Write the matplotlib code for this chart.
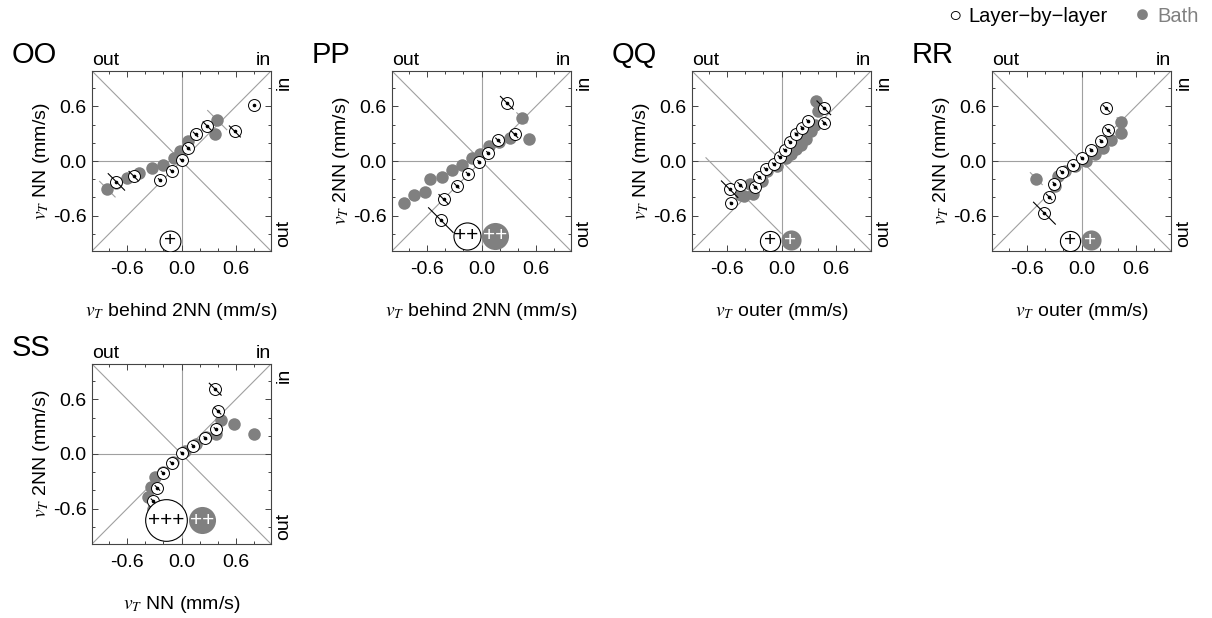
import matplotlib
matplotlib.use("Agg")
import matplotlib.pyplot as plt
import numpy as np

plt.rcParams['font.family'] = ['Liberation Sans', 'DejaVu Sans']
plt.rcParams['mathtext.fontset'] = 'stix'

GRAY = '#808080'
LIGHT = '#a0a0a0'

# ---- data ----
# OO
oo_open_x = [-0.72, -0.53, -0.24, -0.11, 0.00, 0.07, 0.155, 0.285, 0.59, 0.80]
oo_open_y = [-0.23, -0.165, -0.21, -0.11, 0.007, 0.146, 0.293, 0.384, 0.325, 0.62]
oo_open_err = [0.095, 0.055, 0.02, 0.02, 0.02, 0.03, 0.03, 0.05, 0.065, 0.0]
oo_bath_x = [-0.82, -0.72, -0.60, -0.475, -0.33, -0.21, -0.08, -0.02, 0.07, 0.165, 0.37, 0.395]
oo_bath_y = [-0.31, -0.24, -0.19, -0.13, -0.08, -0.04, 0.035, 0.115, 0.22, 0.30, 0.30, 0.45]
oo_bath_err = [0.09, 0.0, 0.0, 0.0, 0.0, 0.0, 0.0, 0.0, 0.0, 0.0, 0.0, 0.11]

# PP
pp_open_x = [-0.45, -0.42, -0.274, -0.154, -0.026, 0.073, 0.183, 0.366, 0.28]
pp_open_y = [-0.65, -0.42, -0.274, -0.139, -0.011, 0.088, 0.227, 0.293, 0.64]
pp_open_err = [0.14, 0.055, 0.03, 0.02, 0.02, 0.02, 0.03, 0.04, 0.075]
pp_bath_x = [-0.86, -0.75, -0.63, -0.567, -0.44, -0.33, -0.212, -0.11, -0.018, 0.08, 0.19, 0.31, 0.446, 0.52]
pp_bath_y = [-0.464, -0.373, -0.34, -0.20, -0.175, -0.10, -0.048, 0.03, 0.08, 0.165, 0.21, 0.256, 0.475, 0.24]
pp_bath_err = [0.02, 0, 0, 0, 0, 0, 0, 0, 0, 0, 0, 0, 0.06, 0]

# QQ
qq_open_x = [-0.574, -0.457, -0.556, -0.29, -0.249, -0.175, -0.084, -0.022, 0.037, 0.091, 0.165, 0.23, 0.293, 0.468, 0.475]
qq_open_y = [-0.31, -0.263, -0.464, -0.285, -0.175, -0.09, -0.037, 0.044, 0.117, 0.212, 0.293, 0.366, 0.439, 0.585, 0.42]
qq_open_err = [0.095, 0.03, 0.015, 0.03, 0.03, 0.02, 0.02, 0.02, 0.02, 0.02, 0.02, 0.02, 0.02, 0.08, 0.03]
qq_bath_x = [-0.42, -0.446, -0.32, -0.35, -0.22, -0.165, -0.055, 0.055, 0.11, 0.165, 0.22, 0.274, 0.33, 0.366, 0.40, 0.385]
qq_bath_y = [-0.38, -0.373, -0.366, -0.256, -0.22, -0.11, -0.055, 0.03, 0.073, 0.128, 0.175, 0.238, 0.33, 0.40, 0.55, 0.658]
qq_bath_err = [0.42, 0, 0.02, 0, 0, 0, 0, 0, 0, 0, 0, 0, 0, 0, 0, 0.02]

# RR
rr_open_x = [-0.41, -0.358, -0.30, -0.22, -0.099, 0.007, 0.11, 0.22, 0.293, 0.274]
rr_open_y = [-0.574, -0.395, -0.249, -0.12, -0.048, 0.03, 0.12, 0.22, 0.336, 0.578]
rr_open_err = [0.125, 0.035, 0.02, 0.02, 0.02, 0.02, 0.02, 0.02, 0.035, 0.04]
rr_bath_x = [-0.50, -0.29, -0.256, -0.183, -0.073, 0.048, 0.146, 0.238, 0.33, 0.44, 0.44]
rr_bath_y = [-0.194, -0.274, -0.165, -0.11, -0.055, 0.0, 0.073, 0.146, 0.227, 0.31, 0.43]
rr_bath_err = [0.07, 0, 0, 0, 0, 0, 0, 0, 0, 0, 0.05]

# SS
ss_open_x = [-0.31, -0.267, -0.208, -0.11, 0.007, 0.128, 0.263, 0.377, 0.40, 0.373]
ss_open_y = [-0.52, -0.373, -0.205, -0.099, 0.007, 0.091, 0.175, 0.274, 0.475, 0.713]
ss_open_err = [0.03, 0.03, 0.02, 0.02, 0.02, 0.02, 0.02, 0.02, 0.04, 0.07]
ss_bath_x = [-0.31, -0.366, -0.336, -0.29, -0.20, -0.09, 0.037, 0.165, 0.274, 0.384, 0.44, 0.585, 0.80]
ss_bath_y = [-0.60, -0.475, -0.366, -0.25, -0.20, -0.09, 0.03, 0.11, 0.19, 0.22, 0.373, 0.33, 0.22]
ss_bath_err = [0, 0, 0, 0, 0, 0, 0, 0, 0, 0, 0, 0.02, 0.02]

panel_names = ['OO', 'PP', 'QQ', 'RR', 'SS']
x_labels = [r'$v_T$ behind 2NN (mm/s)', r'$v_T$ behind 2NN (mm/s)', r'$v_T$ outer (mm/s)',
            r'$v_T$ outer (mm/s)', r'$v_T$ NN (mm/s)']
y_labels = [r'$v_T$ NN (mm/s)', r'$v_T$ 2NN (mm/s)', r'$v_T$ NN (mm/s)',
            r'$v_T$ 2NN (mm/s)', r'$v_T$ 2NN (mm/s)']
# significance marks: (text, x, y, filled, diameter)
sig_marks = [
    [('+', -0.128, -0.878, False, 15)],
    [('++', -0.165, -0.823, False, 19.5), ('++', 0.154, -0.823, True, 19.5)],
    [('+', -0.128, -0.878, False, 14.5), ('+', 0.10, -0.87, True, 14.5)],
    [('+', -0.128, -0.878, False, 14.5), ('+', 0.10, -0.87, True, 14.5)],
    [('+++', -0.17, -0.73, False, 30), ('++', 0.23, -0.73, True, 19.5)],
]

panels = [
    (oo_open_x, oo_open_y, oo_open_err, oo_bath_x, oo_bath_y, oo_bath_err),
    (pp_open_x, pp_open_y, pp_open_err, pp_bath_x, pp_bath_y, pp_bath_err),
    (qq_open_x, qq_open_y, qq_open_err, qq_bath_x, qq_bath_y, qq_bath_err),
    (rr_open_x, rr_open_y, rr_open_err, rr_bath_x, rr_bath_y, rr_bath_err),
    (ss_open_x, ss_open_y, ss_open_err, ss_bath_x, ss_bath_y, ss_bath_err),
]

W, H = 1212, 618
fig = plt.figure(figsize=(W / 100, H / 100), dpi=100)
boxes = [(92, 71), (392, 71), (692, 71), (992, 71), (92, 364)]
lim = 0.99
FS = 14


def err_lines(ax, x, y, e, color, lw, z):
    for xi, yi, ei in zip(x, y, e):
        if ei > 0:
            ax.plot([xi - ei, xi + ei], [yi + ei, yi - ei], color=color, lw=lw, zorder=z,
                    solid_capstyle='butt')


for i, (name, (ox, oy, oe, bx, by, be)) in enumerate(zip(panel_names, panels)):
    l, t = boxes[i]
    ax = fig.add_axes([l / W, 1 - (t + 180) / H, 179 / W, 180 / H])
    ax.set_xlim(-lim, lim)
    ax.set_ylim(-lim, lim)
    # reference lines
    ax.plot([-lim, lim], [-lim, lim], color=LIGHT, lw=0.8, zorder=1)
    ax.plot([-lim, lim], [lim, -lim], color=LIGHT, lw=0.8, zorder=1)
    ax.axhline(0, color=LIGHT, lw=0.8, zorder=1)
    ax.axvline(0, color=LIGHT, lw=0.8, zorder=1)

    # bath
    err_lines(ax, bx, by, be, LIGHT, 0.8, 1.5)
    ax.plot(bx, by, 'o', color=GRAY, ms=9, mec='none', zorder=2)
    # layer-by-layer
    ax.plot(ox, oy, 'o', mfc='white', mec='black', mew=0.7, ms=8.6, zorder=3)
    err_lines(ax, ox, oy, oe, 'black', 0.8, 4)
    ax.plot(ox, oy, 'o', color='black', ms=1.6, zorder=5)

    for txt, sx, sy, filled, d in sig_marks[i]:
        if filled:
            ax.plot(sx, sy, 'o', color=GRAY, mec='none', ms=d, zorder=6)
            ax.text(sx, sy, txt, color='white', fontsize=15, ha='center', va='center', zorder=7)
        else:
            ax.plot(sx, sy, 'o', mfc='white', mec='black', mew=0.8, ms=d, zorder=6)
            ax.text(sx, sy, txt, color='black', fontsize=15, ha='center', va='center', zorder=7)

    ax.set_xticks([-0.6, 0.0, 0.6])
    ax.set_yticks([-0.6, 0.0, 0.6])
    ax.set_xticks(np.arange(-0.8, 0.81, 0.2), minor=True)
    ax.set_yticks(np.arange(-0.8, 0.81, 0.2), minor=True)
    ax.xaxis.set_major_formatter(plt.FormatStrFormatter('%.1f'))
    ax.yaxis.set_major_formatter(plt.FormatStrFormatter('%.1f'))
    ax.tick_params(which='both', direction='in', top=True, right=True, labelsize=FS,
                   color='#444444', width=0.7)
    ax.tick_params(which='major', length=4)
    ax.tick_params(axis='x', which='major', pad=7)
    ax.tick_params(axis='y', which='major', pad=4)
    ax.tick_params(which='minor', length=2)
    for s in ax.spines.values():
        s.set_color('#444444')
        s.set_linewidth(0.8)
    ax.set_xlabel(x_labels[i], fontsize=14)
    ax.set_ylabel(y_labels[i], fontsize=14)
    ax.xaxis.set_label_coords(0.5, -0.28)
    ax.yaxis.set_label_coords(-0.225, 0.5)

    ax.text(0, 1.012, 'out', transform=ax.transAxes, ha='left', va='bottom', fontsize=FS)
    ax.text(1, 1.012, 'in', transform=ax.transAxes, ha='right', va='bottom', fontsize=FS)
    ax.text(1.025, 0.98, 'in', transform=ax.transAxes, ha='left', va='top', rotation=90, fontsize=FS)
    ax.text(1.025, 0.02, 'out', transform=ax.transAxes, ha='left', va='bottom', rotation=90, fontsize=FS)

    fig.text((l - 80) / W, 1 - (t - 8) / H, name, fontsize=21, ha='left', va='baseline')

fig.text(948 / W, 1 - 22 / H, '\u25cb', fontsize=16, ha='left', va='baseline', color='black')
fig.text(968 / W, 1 - 22 / H, 'Layer\u2212by\u2212layer', fontsize=14.5, ha='left', va='baseline', color='black')
fig.text(1135 / W, 1 - 22 / H, '\u25cf', fontsize=18, ha='left', va='baseline', color=GRAY)
fig.text(1157 / W, 1 - 22 / H, 'Bath', fontsize=14.5, ha='left', va='baseline', color=GRAY)

fig.savefig('out.png', dpi=100)
